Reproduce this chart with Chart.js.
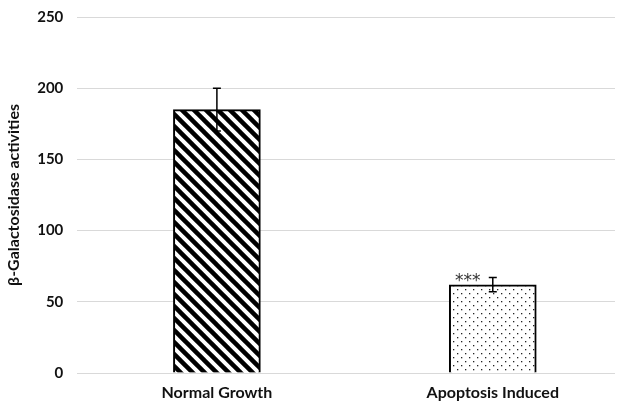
<!DOCTYPE html>
<html>
<head>
<meta charset="utf-8">
<script src="https://cdn.jsdelivr.net/npm/chart.js@4/dist/chart.umd.min.js"></script>
<style>
  html, body { margin: 0; padding: 0; background: #fff; }
  #wrap { width: 627px; height: 406px; }
</style>
</head>
<body>
<div id="wrap"><canvas id="chart" width="627" height="406"></canvas></div>
<script>
// Data
const categories = ["Normal Growth", "Apoptosis Induced"];
const activity = [185, 62];
const errors = [15, 5];
const marks = ["", "***"];
const yTicks = [0, 50, 100, 150, 200, 250];

const FONT = "Lato, 'Open Sans', sans-serif";

// hatch: diagonal stripes (top-left to bottom-right)
function stripePattern() {
  const c = document.createElement("canvas");
  c.width = 12; c.height = 12;
  const g = c.getContext("2d");
  g.fillStyle = "#fff";
  g.fillRect(0, 0, 12, 12);
  g.strokeStyle = "#000";
  g.lineWidth = 4.5;
  for (let k = -12; k <= 12; k += 12) {
    g.beginPath();
    g.moveTo(k - 2, -2);
    g.lineTo(k + 14, 14);
    g.stroke();
  }
  return g.createPattern(c, "repeat");
}

// dotted fill
function dotPattern() {
  const c = document.createElement("canvas");
  c.width = 8; c.height = 8;
  const g = c.getContext("2d");
  g.fillStyle = "#fff";
  g.fillRect(0, 0, 8, 8);
  g.fillStyle = "#222";
  g.fillRect(1, 1, 1.3, 1.3);
  g.fillRect(5, 5, 1.3, 1.3);
  return g.createPattern(c, "repeat");
}

// error bars + significance stars
const errorBars = {
  id: "errorBars",
  afterDatasetsDraw(chart) {
    const ctx = chart.ctx;
    const y = chart.scales.y;
    const meta = chart.getDatasetMeta(0);
    ctx.save();
    meta.data.forEach((bar, i) => {
      const top = y.getPixelForValue(activity[i] + errors[i]);
      const bot = y.getPixelForValue(activity[i] - errors[i]);
      ctx.strokeStyle = "#000";
      ctx.lineWidth = 1.5;
      ctx.beginPath();
      ctx.moveTo(bar.x, top); ctx.lineTo(bar.x, bot);
      ctx.moveTo(bar.x - 4, top); ctx.lineTo(bar.x + 4, top);
      ctx.moveTo(bar.x - 4, bot); ctx.lineTo(bar.x + 4, bot);
      ctx.stroke();
      if (marks[i]) {
        ctx.fillStyle = "#333";
        ctx.font = "17px 'DejaVu Sans', sans-serif";
        ctx.textAlign = "center";
        ctx.textBaseline = "alphabetic";
        ctx.fillText(marks[i], bar.x - 25, y.getPixelForValue(activity[i]) + 1);
      }
    });
    ctx.restore();
  }
};

const ctx = document.getElementById("chart").getContext("2d");
new Chart(ctx, {
  type: "bar",
  data: {
    datasets: [{
      data: activity.map((v, i) => ({ x: i, y: v })),
      backgroundColor: [stripePattern(), dotPattern()],
      borderColor: "#000",
      borderWidth: 2,
      borderSkipped: "bottom",
      barThickness: 87
    }]
  },
  options: {
    responsive: false,
    animation: false,
    layout: { padding: { top: 0, right: 12, bottom: 3, left: 1 } },
    plugins: { legend: { display: false }, tooltip: { enabled: false } },
    scales: {
      x: {
        type: "linear",
        offset: false,
        min: -0.506,
        max: 1.443,
        afterBuildTicks: s => { s.ticks = categories.map((c, i) => ({ value: i })); },
        afterFit: s => { s.height = 30; s.paddingBottom = 0; },
        grid: { display: false, drawTicks: false },
        border: { display: false },
        ticks: {
          callback: v => categories[v],
          color: "#111",
          font: { family: FONT, size: 16, weight: "bold" },
          padding: 10,
          maxRotation: 0,
          autoSkip: false
        }
      },
      y: {
        min: 0,
        max: 250,
        afterBuildTicks: s => { s.ticks = yTicks.map(v => ({ value: v })); },
        afterFit: s => { s.paddingTop = 17; s.paddingBottom = 0; },
        grid: { color: "#d9d9d9", lineWidth: 1, drawTicks: false },
        border: { display: false },
        ticks: {
          color: "#111",
          font: { family: FONT, size: 15, weight: "bold" },
          padding: 14
        },
        title: {
          display: true,
          text: "β-Galactosidase activities",
          color: "#111",
          font: { family: FONT, size: 16, weight: "bold" },
          padding: { top: 3, bottom: 0 }
        }
      }
    }
  },
  plugins: [errorBars]
});
</script>
</body>
</html>
